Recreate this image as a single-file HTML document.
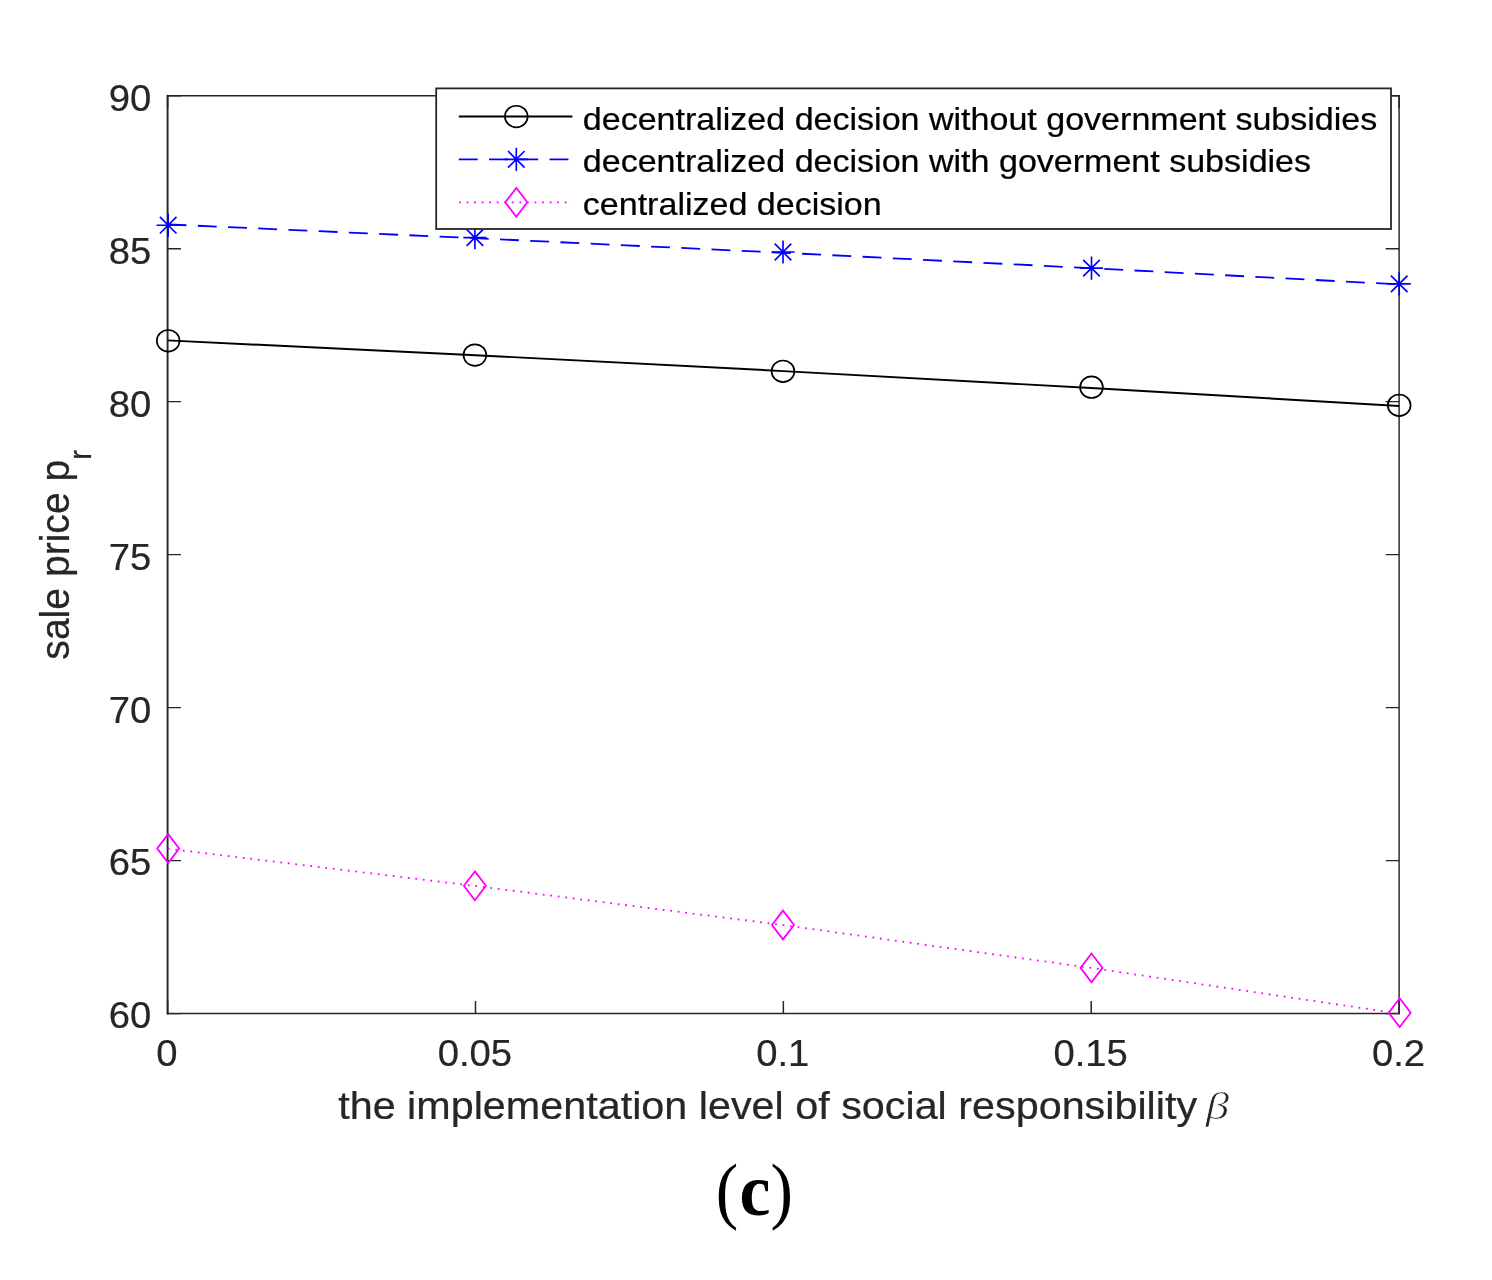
<!DOCTYPE html>
<html lang="en"><head><meta charset="utf-8"><title>Figure (c): sale price vs social responsibility</title>
<style>html,body{margin:0;padding:0;background:#fff}body{width:1492px;height:1280px;overflow:hidden}svg{display:block;font-family:"Liberation Sans",Arial,sans-serif}</style></head><body>
<svg width="1492" height="1280" viewBox="0 0 1492 1280">
<rect width="1492" height="1280" fill="#fff"/>
<g fill="none" stroke="#262626" stroke-linecap="square">
<path d="M167.6 95.75V1013.6" stroke-width="1.9"/>
<path d="M1399.1 95.75V1013.6" stroke-width="1.45"/>
<path d="M167.6 95.75H1399.1" stroke-width="1.35"/>
<path d="M167.6 1013.6H1399.1" stroke-width="1.5"/>
</g>
<path d="M167.6 1013.60h13.4M1399.1 1013.60h-13.4M167.6 860.62h13.4M1399.1 860.62h-13.4M167.6 707.65h13.4M1399.1 707.65h-13.4M167.6 554.67h13.4M1399.1 554.67h-13.4M167.6 401.70h13.4M1399.1 401.70h-13.4M167.6 248.73h13.4M1399.1 248.73h-13.4M167.6 95.75h13.4M1399.1 95.75h-13.4" fill="none" stroke="#262626" stroke-width="1.3"/>
<path d="M167.60 1013.6v-12.6M167.60 95.75v12.6M475.48 1013.6v-12.6M475.48 95.75v12.6M783.35 1013.6v-12.6M783.35 95.75v12.6M1091.22 1013.6v-12.6M1091.22 95.75v12.6M1399.10 1013.6v-12.6M1399.10 95.75v12.6" fill="none" stroke="#262626" stroke-width="1.5"/>
<g font-size="36.2" fill="#262626" stroke="#262626" stroke-width="0.2">
<text transform="translate(151.3 1028.4) scale(1.057 1)" text-anchor="end">60</text>
<text transform="translate(151.3 875.4) scale(1.057 1)" text-anchor="end">65</text>
<text transform="translate(151.3 722.5) scale(1.057 1)" text-anchor="end">70</text>
<text transform="translate(151.3 569.5) scale(1.057 1)" text-anchor="end">75</text>
<text transform="translate(151.3 416.5) scale(1.057 1)" text-anchor="end">80</text>
<text transform="translate(151.3 263.5) scale(1.057 1)" text-anchor="end">85</text>
<text transform="translate(151.3 110.5) scale(1.057 1)" text-anchor="end">90</text>
<text transform="translate(167.0 1065.6) scale(1.057 1)" text-anchor="middle">0</text>
<text transform="translate(474.9 1065.6) scale(1.057 1)" text-anchor="middle">0.05</text>
<text transform="translate(782.8 1065.6) scale(1.057 1)" text-anchor="middle">0.1</text>
<text transform="translate(1090.6 1065.6) scale(1.057 1)" text-anchor="middle">0.15</text>
<text transform="translate(1398.5 1065.6) scale(1.057 1)" text-anchor="middle">0.2</text>
</g>
<text transform="translate(338.2 1118.9) scale(1.057 1)" font-size="39.1" fill="#262626" stroke="#262626" stroke-width="0.25">the implementation level of social responsibility</text>
<text transform="translate(1205.7 1118.5) scale(1.21 1)" font-family="'Liberation Serif',serif" font-style="italic" font-size="38.8" fill="#262626" stroke="#fff" stroke-width="0.7">β</text>
<text transform="translate(68.9 554.8) scale(1.057 1) rotate(-90)" font-size="39.1" fill="#262626" stroke="#262626" stroke-width="0.25" text-anchor="middle">sale price p<tspan dy="21" font-size="29.5">r</tspan></text>
<polyline points="167.6,340.4 475.5,355.2 783.4,371.1 1091.2,388.0 1399.1,406.0" fill="none" stroke="#000" stroke-width="1.95"/>
<polyline points="167.6,224.4 475.5,238.2 783.4,252.8 1091.2,268.2 1399.1,284.4" fill="none" stroke="#00f" stroke-width="1.8" stroke-dasharray="18.9 11.35"/>
<polyline points="167.6,848.7 475.5,886.0 783.4,925.1 1091.2,967.9 1399.1,1013.6" fill="none" stroke="#f0f" stroke-width="1.8" stroke-dasharray="1.8 5.755" stroke-dashoffset="-0.2"/>
<ellipse cx="168.2" cy="340.8" rx="11.4" ry="10.8" fill="none" stroke="#000" stroke-width="1.65"/>
<ellipse cx="474.9" cy="355.1" rx="11.4" ry="10.8" fill="none" stroke="#000" stroke-width="1.65"/>
<ellipse cx="783.0" cy="371.3" rx="11.4" ry="10.8" fill="none" stroke="#000" stroke-width="1.65"/>
<ellipse cx="1091.5" cy="387.2" rx="11.4" ry="10.8" fill="none" stroke="#000" stroke-width="1.65"/>
<ellipse cx="1399.2" cy="405.3" rx="11.4" ry="10.8" fill="none" stroke="#000" stroke-width="1.65"/>
<path d="M156.6 225.2h23.2M168.2 213.6v23.2M159.9 216.9l16.6 16.6M159.9 233.5l16.6 -16.6" fill="none" stroke="#00f" stroke-width="1.65"/>
<path d="M463.3 237.6h23.2M474.9 226.0v23.2M466.6 229.3l16.6 16.6M466.6 245.9l16.6 -16.6" fill="none" stroke="#00f" stroke-width="1.65"/>
<path d="M771.4 252.0h23.2M783.0 240.4v23.2M774.7 243.7l16.6 16.6M774.7 260.3l16.6 -16.6" fill="none" stroke="#00f" stroke-width="1.65"/>
<path d="M1079.9 268.1h23.2M1091.5 256.5v23.2M1083.2 259.8l16.6 16.6M1083.2 276.4l16.6 -16.6" fill="none" stroke="#00f" stroke-width="1.65"/>
<path d="M1387.6 283.9h23.2M1399.2 272.3v23.2M1390.9 275.6l16.6 16.6M1390.9 292.2l16.6 -16.6" fill="none" stroke="#00f" stroke-width="1.65"/>
<path d="M168.2 834.1l11.0 14.4l-11.0 14.4l-11.0 -14.4z" fill="none" stroke="#f0f" stroke-width="1.8" stroke-linejoin="miter"/>
<path d="M474.9 871.4l11.0 14.4l-11.0 14.4l-11.0 -14.4z" fill="none" stroke="#f0f" stroke-width="1.8" stroke-linejoin="miter"/>
<path d="M783.0 910.6l11.0 14.4l-11.0 14.4l-11.0 -14.4z" fill="none" stroke="#f0f" stroke-width="1.8" stroke-linejoin="miter"/>
<path d="M1091.5 953.5l11.0 14.4l-11.0 14.4l-11.0 -14.4z" fill="none" stroke="#f0f" stroke-width="1.8" stroke-linejoin="miter"/>
<path d="M1399.7 998.3l11.0 14.4l-11.0 14.4l-11.0 -14.4z" fill="none" stroke="#f0f" stroke-width="1.8" stroke-linejoin="miter"/>
<rect x="436.2" y="88.4" width="954.8" height="140.6" fill="#fff" stroke="#262626" stroke-width="1.8"/>
<path d="M458.8 116.5H572.4" stroke="#000" stroke-width="1.95" fill="none"/>
<path d="M458.8 159.3H572.4" stroke="#00f" stroke-width="1.8" fill="none" stroke-dasharray="18.9 11.35"/>
<path d="M458.8 202.3H572.4" stroke="#f0f" stroke-width="1.8" fill="none" stroke-dasharray="1.8 5.755" stroke-dashoffset="-0.2"/>
<ellipse cx="516.3" cy="116.5" rx="11.4" ry="10.8" fill="none" stroke="#000" stroke-width="1.65"/>
<path d="M504.7 159.3h23.2M516.3 147.7v23.2M508.0 151.0l16.6 16.6M508.0 167.6l16.6 -16.6" fill="none" stroke="#00f" stroke-width="1.65"/>
<path d="M516.3 187.9l11.0 14.4l-11.0 14.4l-11.0 -14.4z" fill="none" stroke="#f0f" stroke-width="1.8" stroke-linejoin="miter"/>
<g font-size="32.2" fill="#000" stroke="#000" stroke-width="0.25">
<text transform="translate(582.8 129.6) scale(1.057 1)">decentralized decision without government subsidies</text>
<text transform="translate(582.8 172.4) scale(1.057 1)">decentralized decision with goverment subsidies</text>
<text transform="translate(582.8 215.4) scale(1.057 1)">centralized decision</text>
</g>
<g font-family="'Liberation Serif',serif" font-size="73.4" fill="#000">
<text transform="translate(715.8 1214.9) scale(0.92 1)">(</text>
<text transform="translate(739.6 1214.9) scale(0.95 1)" font-weight="bold">c</text>
<text transform="translate(770.4 1214.9) scale(0.92 1)">)</text>
</g>
</svg></body></html>
